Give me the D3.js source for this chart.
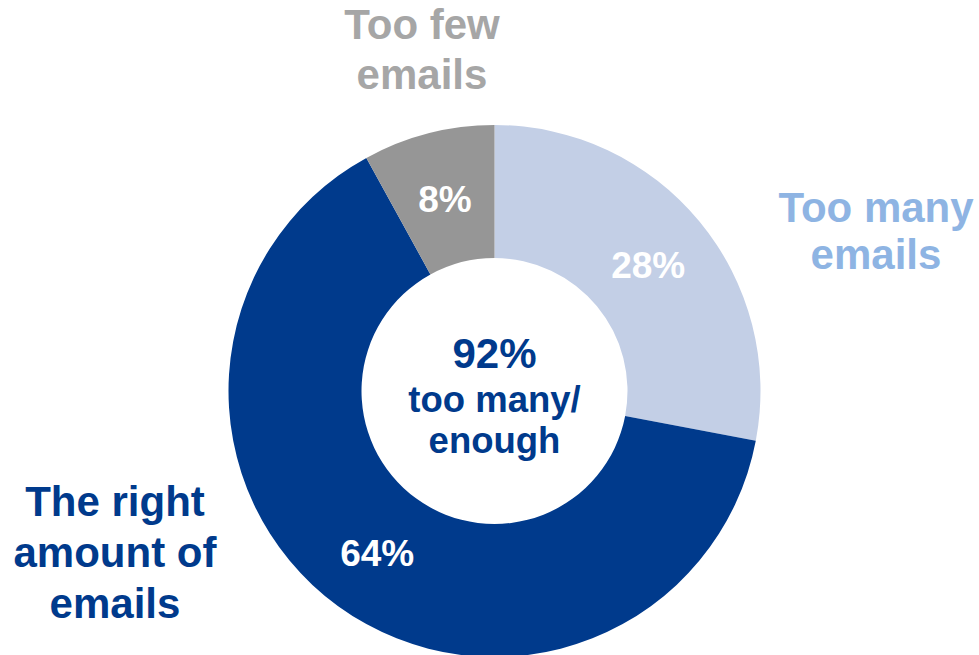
<!DOCTYPE html>
<html>
<head>
<meta charset="utf-8">
<script src="https://cdn.jsdelivr.net/npm/d3@7"></script>
<style>
  html, body { margin: 0; padding: 0; background: #ffffff; }
  svg { display: block; }
  text { font-family: "Liberation Sans", Arial, sans-serif; font-weight: bold; }
</style>
</head>
<body>
<svg id="chart" width="979" height="655"></svg>
<script>
// Survey answers, in clockwise order starting at 12 o'clock
const categories = ["Too many emails", "The right amount of emails", "Too few emails"];
const values = [28, 64, 8];
const sliceColors = ["#c3cfe6", "#003a8c", "#969696"];
const labelColors = ["#8eb4e3", "#003a8c", "#a6a6a6"];

// Outside category labels, split into lines
const labelLines = [
  ["Too many", "emails"],
  ["The right", "amount of", "emails"],
  ["Too few", "emails"]
];
// Centre summary text
const centreLines = ["92%", "too many/", "enough"];

const width = 979, height = 655;
const cx = 494.5, cy = 391;
const outerR = 266, innerR = 133;

const svg = d3.select("#chart");
const g = svg.append("g").attr("transform", `translate(${cx},${cy})`);

const pie = d3.pie().sort(null).value(d => d.value);
const data = categories.map((c, i) => ({ name: c, value: values[i], i }));
const arcs = pie(data);

const arc = d3.arc().innerRadius(innerR).outerRadius(outerR);

g.selectAll("path.slice")
  .data(arcs)
  .join("path")
  .attr("class", "slice")
  .attr("d", arc)
  .attr("fill", d => sliceColors[d.data.i]);

// Value labels inside each slice
g.selectAll("text.value")
  .data(arcs)
  .join("text")
  .attr("class", "value")
  .attr("x", d => arc.centroid(d)[0])
  .attr("y", d => arc.centroid(d)[1] + 14)
  .attr("text-anchor", "middle")
  .attr("fill", "#ffffff")
  .attr("font-size", 37)
  .text(d => d.data.value + "%");

// Centre text
const centre = g.append("text").attr("text-anchor", "middle").attr("fill", "#003a8c");
const centreY = [-23, 21, 62];
const centreSize = [42, 36.5, 36.5];
centreLines.forEach((t, k) => {
  centre.append("tspan")
    .attr("x", 0)
    .attr("y", centreY[k])
    .attr("font-size", centreSize[k])
    .text(t);
});

// Category labels placed outside the ring
const labelPos = [
  { x: 876, y: 222, dy: 47 },
  { x: 115, y: 516, dy: 51 },
  { x: 422, y: 39, dy: 50 }
];
labelLines.forEach((lines, i) => {
  const t = svg.append("text")
    .attr("text-anchor", "middle")
    .attr("fill", labelColors[i])
    .attr("font-size", 42);
  lines.forEach((line, k) => {
    t.append("tspan")
      .attr("x", labelPos[i].x)
      .attr("y", labelPos[i].y + k * labelPos[i].dy)
      .text(line);
  });
});
</script>
</body>
</html>
